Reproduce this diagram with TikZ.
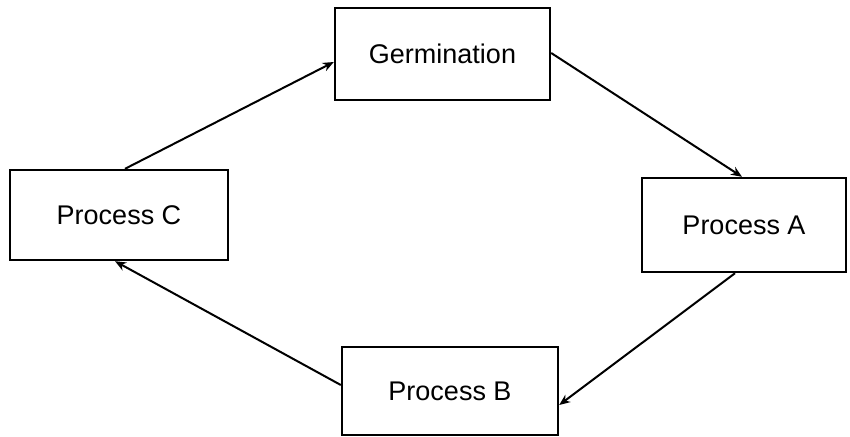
\documentclass[tikz,border=0pt]{standalone}
\usepackage{fontspec}
\setmainfont{Liberation Sans}
\usetikzlibrary{positioning, arrows.meta}

\begin{document}
\begin{tikzpicture}[x=1pt,y=-1pt,proc/.style = {draw, line width=2.4pt, rectangle, inner sep=0pt, font=\fontsize{27}{32}\selectfont}, link/.style = {line width=2pt, -{Stealth[length=11pt,width=9pt]}}]
		\useasboundingbox (0,0) rectangle (850,436);
		\node[proc, minimum width=215pt, minimum height=92pt] (germ) at (442.5,54) {Germination};
		\node[proc, minimum width=204pt, minimum height=94pt] (procA) at (744,225) {Process A};
		\node[proc, minimum width=216pt, minimum height=88pt] (procB) at (450,391) {Process B};
		\node[proc, minimum width=218pt, minimum height=90pt] (procC) at (119,215) {Process C};
		\draw[link] ([yshift=1pt]germ.east) to ([xshift=-2pt]procA.north);
		\draw[link] ([xshift=-9pt]procA.south) to ([yshift=-14pt]procB.east);
		\draw[link] ([yshift=6pt]procB.west) to ([xshift=-4pt]procC.south);
		\draw[link] ([xshift=6pt]procC.north) to ([yshift=-8pt]germ.west);
	\end{tikzpicture}
\end{document}
